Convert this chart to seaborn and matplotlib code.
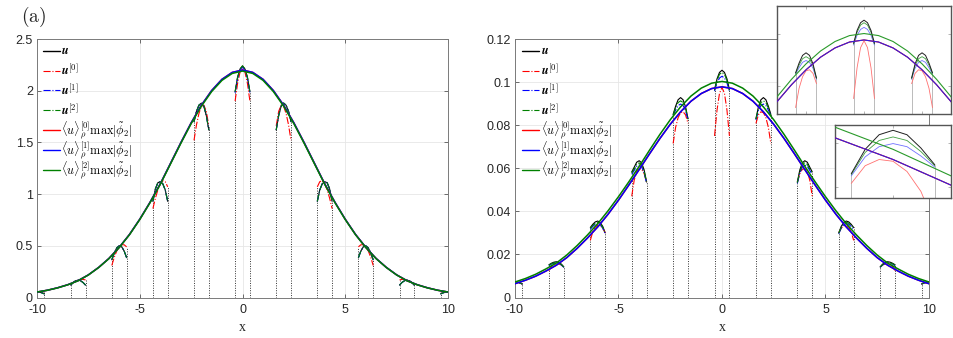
import matplotlib
matplotlib.use("Agg")
import matplotlib.pyplot as plt
import seaborn as sns
import pandas as pd
from matplotlib.lines import Line2D

sns.set_theme(style="whitegrid")
plt.rcParams["font.family"] = ["Liberation Sans", "DejaVu Sans"]
plt.rcParams["mathtext.fontset"] = "cm"
plt.rcParams["axes.unicode_minus"] = False

# ---------------- data ----------------
# envelope sample positions for x >= 0 (mirrored for x < 0)
env_x_pos = [0, 0.5, 1, 1.5, 2, 2.5, 3, 3.5, 4, 4.5, 5, 5.5, 6, 6.5, 7, 7.5, 8, 8.5, 9, 9.5, 10]

# left panel envelopes <u>_rho^[k] max|phi2|
L_env0 = [2.20, 2.177, 2.110, 2.002, 1.860, 1.689, 1.498, 1.299, 1.100, 0.921, 0.757,
          0.610, 0.485, 0.378, 0.291, 0.219, 0.163, 0.124, 0.094, 0.070, 0.053]
L_env1 = [2.20, 2.177, 2.110, 2.002, 1.860, 1.689, 1.498, 1.299, 1.100, 0.921, 0.757,
          0.610, 0.485, 0.378, 0.291, 0.219, 0.163, 0.124, 0.094, 0.070, 0.053]
L_env2 = [2.19, 2.167, 2.100, 1.992, 1.851, 1.681, 1.491, 1.293, 1.095, 0.917, 0.754,
          0.607, 0.483, 0.376, 0.290, 0.218, 0.162, 0.123, 0.093, 0.070, 0.053]

# right panel envelopes
R_env0 = [0.0978, 0.0970, 0.0947, 0.0911, 0.0862, 0.0804, 0.0738, 0.0667, 0.0594, 0.0522, 0.0452,
          0.0387, 0.0328, 0.0276, 0.0228, 0.0185, 0.0150, 0.0123, 0.0099, 0.0080, 0.0064]
R_env1 = [0.0978, 0.0970, 0.0947, 0.0911, 0.0862, 0.0804, 0.0738, 0.0667, 0.0594, 0.0522, 0.0452,
          0.0387, 0.0328, 0.0276, 0.0228, 0.0185, 0.0150, 0.0123, 0.0099, 0.0080, 0.0064]
R_env2 = [0.1003, 0.0995, 0.0972, 0.0935, 0.0885, 0.0825, 0.0757, 0.0684, 0.0609, 0.0537, 0.0468,
          0.0403, 0.0343, 0.0290, 0.0241, 0.0197, 0.0160, 0.0133, 0.0108, 0.0088, 0.0072]

# local arcs around each node (node >= 0; negative nodes are mirror images)
arc_nodes = [-10, -8, -6, -4, -2, 0, 2, 4, 6, 8, 10]
arc_dx = [-0.36, -0.24, -0.12, 0.0, 0.12, 0.24, 0.36]

L_u = {0: [1.99, 2.13, 2.21, 2.24, 2.21, 2.13, 1.99],
       2: [1.62, 1.76, 1.85, 1.88, 1.86, 1.80, 1.70],
       4: [0.93, 1.04, 1.10, 1.12, 1.11, 1.05, 0.93],
       6: [0.385, 0.45, 0.49, 0.50, 0.48, 0.43, 0.365],
       8: [0.12, 0.145, 0.162, 0.168, 0.162, 0.145, 0.12],
       10: [0.035, 0.045, 0.052, 0.055, 0.052, 0.045, 0.035]}
L_u0 = {0: [1.90, 2.07, 2.18, 2.21, 2.18, 2.07, 1.90],
        2: [1.66, 1.80, 1.86, 1.85, 1.78, 1.67, 1.52],
        4: [1.07, 1.12, 1.13, 1.10, 1.04, 0.96, 0.86],
        6: [0.49, 0.51, 0.51, 0.49, 0.45, 0.39, 0.31],
        8: [0.17, 0.175, 0.175, 0.168, 0.158, 0.145, 0.13],
        10: [0.055, 0.057, 0.056, 0.053, 0.049, 0.044, 0.038]}
L_u1 = {0: [1.98, 2.12, 2.20, 2.23, 2.20, 2.12, 1.98],
        2: [1.62, 1.76, 1.85, 1.88, 1.86, 1.80, 1.70],
        4: [0.93, 1.04, 1.10, 1.12, 1.11, 1.05, 0.93],
        6: [0.385, 0.45, 0.49, 0.50, 0.48, 0.43, 0.365],
        8: [0.12, 0.145, 0.162, 0.168, 0.162, 0.145, 0.12],
        10: [0.035, 0.045, 0.052, 0.055, 0.052, 0.045, 0.035]}
L_u2 = {0: [1.99, 2.13, 2.21, 2.24, 2.21, 2.13, 1.99],
        2: [1.62, 1.76, 1.85, 1.88, 1.86, 1.80, 1.70],
        4: [0.93, 1.04, 1.10, 1.12, 1.11, 1.05, 0.93],
        6: [0.385, 0.45, 0.49, 0.50, 0.48, 0.43, 0.365],
        8: [0.12, 0.145, 0.162, 0.168, 0.162, 0.145, 0.12],
        10: [0.035, 0.045, 0.052, 0.055, 0.052, 0.045, 0.035]}

R_u = {0: [0.0965, 0.1015, 0.1045, 0.1055, 0.1045, 0.1015, 0.0965],
       2: [0.0830, 0.0885, 0.0918, 0.0928, 0.0918, 0.0888, 0.0850],
       4: [0.0536, 0.0592, 0.0625, 0.0635, 0.0628, 0.0605, 0.0583],
       6: [0.0300, 0.0330, 0.0348, 0.0355, 0.0351, 0.0340, 0.0325],
       8: [0.0142, 0.0155, 0.0163, 0.0166, 0.0164, 0.0159, 0.0152],
       10: [0.0063, 0.0069, 0.0072, 0.0074, 0.0073, 0.0071, 0.0068]}
R_u0 = {0: [0.0750, 0.0870, 0.0948, 0.0975, 0.0948, 0.0870, 0.0750],
        2: [0.0808, 0.0848, 0.0862, 0.0858, 0.0835, 0.0790, 0.0715],
        4: [0.0535, 0.0575, 0.0595, 0.0598, 0.0585, 0.0545, 0.0470],
        6: [0.0300, 0.0322, 0.0333, 0.0335, 0.0327, 0.0306, 0.0265],
        8: [0.0141, 0.0151, 0.0156, 0.0157, 0.0153, 0.0144, 0.0125],
        10: [0.0062, 0.0067, 0.0069, 0.0070, 0.0068, 0.0064, 0.0056]}
R_u1 = {0: [0.0958, 0.0996, 0.1019, 0.1027, 0.1019, 0.0996, 0.0958],
        2: [0.0825, 0.0868, 0.0891, 0.0898, 0.0891, 0.0870, 0.0845],
        4: [0.0530, 0.0578, 0.0606, 0.0615, 0.0609, 0.0590, 0.0572],
        6: [0.0296, 0.0322, 0.0338, 0.0343, 0.0340, 0.0330, 0.0317],
        8: [0.0140, 0.0151, 0.0158, 0.0160, 0.0159, 0.0155, 0.0148],
        10: [0.0062, 0.0067, 0.0070, 0.0071, 0.0070, 0.0068, 0.0065]}
R_u2 = {0: [0.0962, 0.1008, 0.1036, 0.1045, 0.1036, 0.1008, 0.0962],
        2: [0.0828, 0.0878, 0.0905, 0.0913, 0.0905, 0.0880, 0.0848],
        4: [0.0533, 0.0585, 0.0615, 0.0625, 0.0618, 0.0597, 0.0578],
        6: [0.0298, 0.0326, 0.0343, 0.0349, 0.0345, 0.0335, 0.0321],
        8: [0.0141, 0.0153, 0.0160, 0.0163, 0.0161, 0.0157, 0.0150],
        10: [0.0062, 0.0068, 0.0071, 0.0072, 0.0071, 0.0069, 0.0066]}

legend_labels = [r"$\boldsymbol{u}$", r"$\boldsymbol{u}^{[0]}$", r"$\boldsymbol{u}^{[1]}$",
                 r"$\boldsymbol{u}^{[2]}$",
                 r"$\langle u\rangle_{\rho}^{[0]}\max|\tilde{\phi}_2|$",
                 r"$\langle u\rangle_{\rho}^{[1]}\max|\tilde{\phi}_2|$",
                 r"$\langle u\rangle_{\rho}^{[2]}\max|\tilde{\phi}_2|$"]
x_ticks = [-10, -5, 0, 5, 10]
x_ticklabels = ["-10", "-5", "0", "5", "10"]
L_yticks = [0, 0.5, 1, 1.5, 2, 2.5]
L_yticklabels = ["0", "0.5", "1", "1.5", "2", "2.5"]
R_yticks = [0, 0.02, 0.04, 0.06, 0.08, 0.1, 0.12]
R_yticklabels = ["0", "0.02", "0.04", "0.06", "0.08", "0.1", "0.12"]

# ---------------- helpers ----------------
RED, BLUE, GREEN, BLACK = "#ff0000", "#0000ff", "#008000", "#000000"


def full_env(vals):
    xs = [-v for v in env_x_pos[:0:-1]] + env_x_pos
    ys = vals[:0:-1] + vals
    return xs, ys


def arc(node, table):
    ys = table[abs(node)]
    if node < 0:
        ys = ys[::-1]
    xs = [node + d for d in arc_dx]
    return xs, ys


def line(ax, xs, ys, color, lw, ls="-", alpha=1.0, z=2):
    sns.lineplot(x=xs, y=ys, ax=ax, color=color, lw=lw, linestyle=ls, alpha=alpha,
                 estimator=None, sort=False, legend=False, zorder=z)


def draw_panel(ax, u, u0, u1, u2, e0, e1, e2, dotted_ymin=0.0, inset=False):
    # vertical dotted lines at the arc ends
    for n in arc_nodes:
        for idx in (0, -1):
            xe = n + arc_dx[idx]
            top = max(arc(n, t)[1][idx] for t in (u, u0, u1, u2))
            if inset:
                ax.vlines(xe, dotted_ymin, top, colors="#b0b0b0", lw=0.6, zorder=1)
            else:
                ax.vlines(xe, dotted_ymin, top, colors="#303030", lw=0.7,
                          linestyles=(0, (1, 1.5)), zorder=1)
    for n in arc_nodes:
        if inset:
            line(ax, *arc(n, u0), "#ff7070", 0.6)
            line(ax, *arc(n, u1), "#7070ff", 0.6)
            line(ax, *arc(n, u2), "#40a040", 0.6)
            line(ax, *arc(n, u), "#202020", 0.7)
        else:
            line(ax, *arc(n, u), BLACK, 0.8)
            line(ax, *arc(n, u0), RED, 0.8, "-.")
            line(ax, *arc(n, u1), BLUE, 0.8, "-.")
            line(ax, *arc(n, u2), GREEN, 0.8, "-.")
    lw = 0.8 if inset else 1.1
    line(ax, *full_env(e0), RED, lw, z=3)
    line(ax, *full_env(e1), "#3020e0" if inset else BLUE, lw, z=3)
    line(ax, *full_env(e2), "#2a9a2a" if inset else GREEN, lw, z=3)


def style_main(ax, yticks, yticklabels, ylim):
    ax.set_xlim(-10, 10)
    ax.set_ylim(*ylim)
    ax.set_xticks(x_ticks)
    ax.set_xticklabels(x_ticklabels)
    ax.set_yticks(yticks)
    ax.set_yticklabels(yticklabels)
    ax.grid(True, color="#e6e6e6", lw=0.6)
    ax.set_facecolor("white")
    for s in ax.spines.values():
        s.set_color("#7a7a7a")
        s.set_linewidth(0.7)
    ax.tick_params(axis="both", direction="in", length=3, width=0.6, color="#555555",
                   labelsize=9, labelcolor="#262626",
                   top=True, right=True, bottom=True, left=True)
    ax.tick_params(axis="x", pad=5)
    ax.tick_params(axis="y", pad=3)
    ax.set_xlabel("x", fontsize=10, family="Liberation Serif", color="#262626", labelpad=3)
    ax.set_ylabel("")


def legend(ax, x0, x1, xt):
    styles = [(BLACK, "-"), (RED, "-."), (BLUE, "-."), (GREEN, "-."),
              (RED, "-"), (BLUE, "-"), (GREEN, "-")]
    for i, ((c, ls), lab) in enumerate(zip(styles, legend_labels)):
        y = 0.955 - i * 0.077
        ax.add_line(Line2D([x0, x1], [y, y], transform=ax.transAxes, color=c,
                           lw=1.0 if ls == "-" else 0.8, linestyle=ls, zorder=5))
        ax.text(xt, y, lab, transform=ax.transAxes, fontsize=8.8, va="center",
                ha="left", color="black", zorder=5)


# ---------------- figure ----------------
fig = plt.figure(figsize=(9.54, 3.38), dpi=100)
fig.patch.set_facecolor("white")

axL = fig.add_axes([0.0388, 0.1198, 0.4308, 0.7648])
draw_panel(axL, L_u, L_u0, L_u1, L_u2, L_env0, L_env1, L_env2)
style_main(axL, L_yticks, L_yticklabels, (0, 2.5))
legend(axL, 0.0146, 0.056, 0.058)

axR = fig.add_axes([0.5398, 0.1198, 0.4340, 0.7648])
draw_panel(axR, R_u, R_u0, R_u1, R_u2, R_env0, R_env1, R_env2)
style_main(axR, R_yticks, R_yticklabels, (0, 0.12))
legend(axR, 0.016, 0.058, 0.062)

# inset 1
ax1 = fig.add_axes([0.8145, 0.6627, 0.1824, 0.3195], zorder=10)
draw_panel(ax1, R_u, R_u0, R_u1, R_u2, R_env0, R_env1, R_env2, dotted_ymin=0.0, inset=True)
ax1.set_xlim(-3, 3)
ax1.set_ylim(0.069, 0.111)

# inset 2
ax2 = fig.add_axes([0.8753, 0.4142, 0.1216, 0.2160], zorder=10)
draw_panel(ax2, R_u, R_u0, R_u1, R_u2, R_env0, R_env1, R_env2, dotted_ymin=0.0, inset=True)
ax2.set_xlim(1.5, 2.5)
ax2.set_ylim(0.0775, 0.0940)

for a in (ax1, ax2):
    a.set_facecolor("white")
    a.grid(False)
    a.set_xlabel("")
    a.set_ylabel("")
    for s in a.spines.values():
        s.set_color("#555555")
        s.set_linewidth(1.0)
    a.tick_params(axis="both", direction="in", length=2, width=0.5, color="#999999",
                  labelleft=False, labelbottom=False, top=True, right=True,
                  bottom=True, left=True)

fig.text(0.022, 0.95, r"$\mathrm{(a)}$", fontsize=14, va="center", ha="left")

fig.savefig("out.png", dpi=100, facecolor="white")
